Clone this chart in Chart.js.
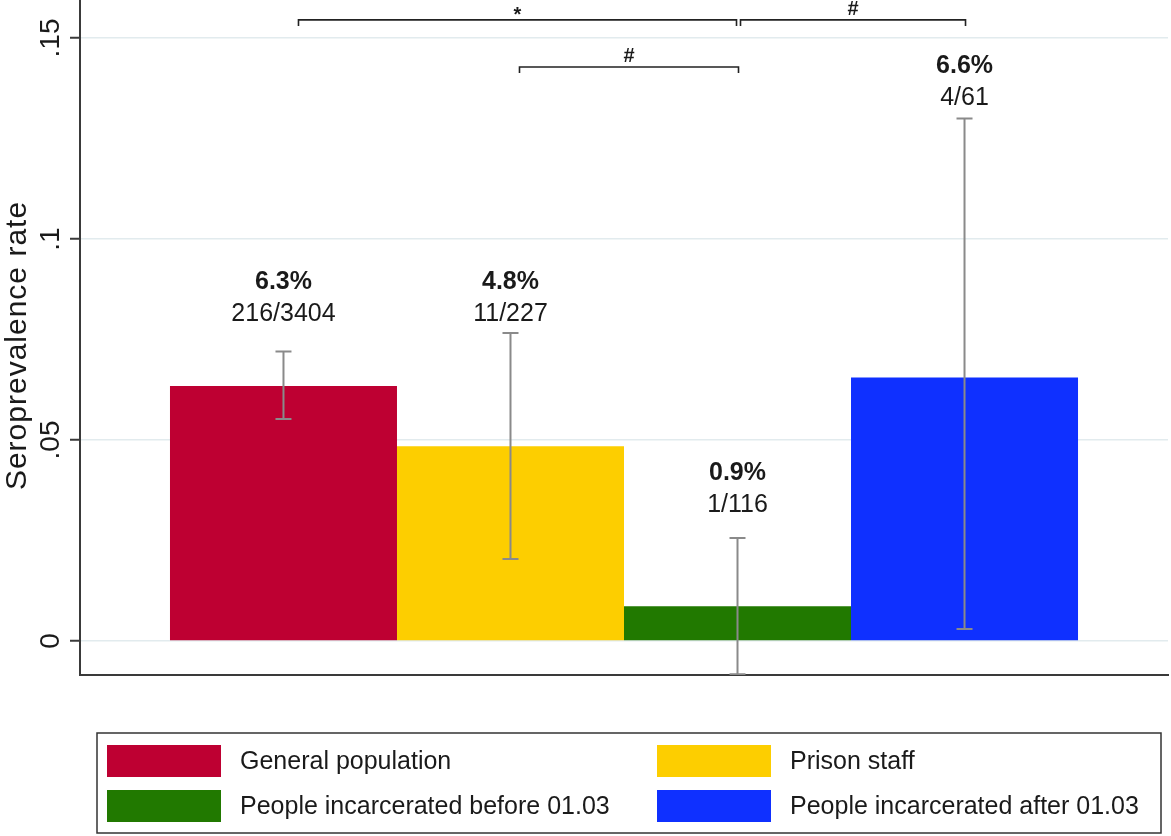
<!DOCTYPE html>
<html>
<head>
<meta charset="utf-8">
<title>Seroprevalence rate by group</title>
<script src="https://cdn.jsdelivr.net/npm/chart.js@4.4.1/dist/chart.umd.min.js"></script>
<style>
  html, body { margin: 0; padding: 0; background: #ffffff; }
  #wrap { width: 1171px; height: 836px; }
</style>
</head>
<body>
<div id="wrap"><canvas id="chart" width="1171" height="836"></canvas></div>
<script>
// Groups, counts and 95% confidence limits
const groups = [
  'General population',
  'Prison staff',
  'People incarcerated before 01.03',
  'People incarcerated after 01.03'
];
const positives = [216, 11, 1, 4];
const tested = [3404, 227, 116, 61];
const ciLower = [0.0552, 0.0204, -0.0083, 0.0030];
const ciUpper = [0.0720, 0.0766, 0.0256, 0.1300];
const rates = positives.map((p, i) => p / tested[i]);

// Y axis ticks
const yTickValues = [0, 0.05, 0.1, 0.15];
const yTickLabels = ['0', '.05', '.1', '.15'];

// Pairwise comparison markers
const comparisons = [
  { from: 0, to: 2, mark: '*' },
  { from: 2, to: 3, mark: '#' },
  { from: 1, to: 2, mark: '#' }
];

// Styling / placement
const colors = ['#be0032', '#fdce00', '#217900', '#0f30ff'];
const FONT = "'Liberation Sans', Arial, Helvetica, sans-serif";
const INK = '#1a1a1a';
const AXIS = '#3a3a3a';
// baseline of the count line above each bar, in axis units
const labelBaseline = [0.0796, 0.0796, 0.0321, 0.1333];
// bracket height (axis units) and end nudges (px) for each comparison
const bracketLayout = [
  { y: 0.1545, dx0: 15, dx1: -1 },
  { y: 0.1545, dx0: 3, dx1: 1 },
  { y: 0.1428, dx0: 9, dx1: 1 }
];

Chart.defaults.font.family = FONT;
Chart.defaults.color = INK;

const overlays = {
  id: 'overlays',
  afterDatasetsDraw(chart) {
    const ctx = chart.ctx;
    const ys = chart.scales.y;
    const area = chart.chartArea;
    const centers = chart.data.datasets.map((d, i) => chart.getDatasetMeta(i).data[0].x);

    // confidence interval whiskers
    ctx.save();
    ctx.beginPath();
    ctx.rect(area.left, area.top, area.right - area.left, area.bottom - area.top);
    ctx.clip();
    ctx.strokeStyle = '#8a8a8a';
    ctx.lineWidth = 2;
    centers.forEach((x, i) => {
      const yLo = ys.getPixelForValue(ciLower[i]);
      const yHi = ys.getPixelForValue(ciUpper[i]);
      ctx.beginPath();
      ctx.moveTo(x, yLo); ctx.lineTo(x, yHi);
      ctx.moveTo(x - 8, yHi); ctx.lineTo(x + 8, yHi);
      ctx.moveTo(x - 8, yLo); ctx.lineTo(x + 8, yLo);
      ctx.stroke();
    });
    ctx.restore();

    // value labels
    ctx.save();
    ctx.fillStyle = INK;
    ctx.textAlign = 'center';
    ctx.textBaseline = 'alphabetic';
    centers.forEach((x, i) => {
      const yb = ys.getPixelForValue(labelBaseline[i]);
      ctx.font = 'bold 25px ' + FONT;
      ctx.fillText((rates[i] * 100).toFixed(1) + '%', x, yb - 32);
      ctx.font = '25px ' + FONT;
      ctx.fillText(positives[i] + '/' + tested[i], x, yb);
    });
    ctx.restore();

    // comparison brackets
    ctx.save();
    ctx.strokeStyle = '#222';
    ctx.lineWidth = 1.6;
    ctx.fillStyle = INK;
    ctx.textAlign = 'center';
    ctx.textBaseline = 'alphabetic';
    comparisons.forEach((c, k) => {
      const L = bracketLayout[k];
      const x0 = centers[c.from] + L.dx0;
      const x1 = centers[c.to] + L.dx1;
      const y = ys.getPixelForValue(L.y);
      ctx.beginPath();
      ctx.moveTo(x0, y + 6); ctx.lineTo(x0, y); ctx.lineTo(x1, y); ctx.lineTo(x1, y + 6);
      ctx.stroke();
      if (c.mark === '*') {
        ctx.font = 'bold 20px ' + FONT;
        ctx.fillText(c.mark, (x0 + x1) / 2, y + 1);
      } else {
        ctx.font = 'bold 20px ' + FONT;
        ctx.fillText(c.mark, (x0 + x1) / 2, y - 5);
      }
    });
    ctx.restore();
  },
  afterDraw(chart) {
    const ctx = chart.ctx;
    const ys = chart.scales.y;
    const area = chart.chartArea;

    // y tick labels, rotated
    ctx.save();
    ctx.fillStyle = INK;
    ctx.font = '28px ' + FONT;
    ctx.textAlign = 'center';
    ctx.textBaseline = 'alphabetic';
    yTickValues.forEach((v, i) => {
      const y = ys.getPixelForValue(v);
      ctx.save();
      ctx.translate(59, y);
      ctx.rotate(-Math.PI / 2);
      ctx.fillText(yTickLabels[i], 0, 0);
      ctx.restore();
    });
    // y axis title
    ctx.save();
    ctx.translate(26, (area.top + area.bottom) / 2 + 8);
    ctx.rotate(-Math.PI / 2);
    ctx.font = '30px ' + FONT;
    ctx.letterSpacing = '1px';
    ctx.fillText('Seroprevalence rate', 0, 0);
    ctx.restore();
    ctx.restore();

    // legend: two columns in a framed box
    const box = { x: 97, y: 733, w: 1064, h: 100 };
    ctx.save();
    ctx.strokeStyle = '#333';
    ctx.lineWidth = 1.5;
    ctx.strokeRect(box.x, box.y, box.w, box.h);
    ctx.font = '25px ' + FONT;
    ctx.textAlign = 'left';
    ctx.textBaseline = 'middle';
    chart.data.datasets.forEach((ds, i) => {
      const col = i % 2, row = Math.floor(i / 2);
      const sx = box.x + 10 + col * 550;
      const sy = box.y + 12 + row * 45;
      ctx.fillStyle = ds.backgroundColor;
      ctx.fillRect(sx, sy, 114, 32);
      ctx.fillStyle = INK;
      ctx.fillText(ds.label, sx + 133, sy + 17);
    });
    ctx.restore();
  }
};

new Chart(document.getElementById('chart'), {
  type: 'bar',
  data: {
    labels: [''],
    datasets: groups.map((g, i) => ({
      label: g,
      data: [rates[i]],
      backgroundColor: colors[i],
      borderWidth: 0,
      barPercentage: 1,
      categoryPercentage: 0.8346
    }))
  },
  options: {
    responsive: false,
    animation: false,
    devicePixelRatio: 1,
    layout: { padding: { left: 0, right: 3, top: 0, bottom: 0 } },
    plugins: { legend: { display: false }, tooltip: { enabled: false } },
    scales: {
      x: {
        type: 'category',
        grid: { display: false, drawTicks: false },
        border: { display: true, color: AXIS, width: 2 },
        ticks: { display: false },
        afterFit(s) { s.height = 161; }
      },
      y: {
        type: 'linear',
        min: -0.00846,
        max: 0.15945,
        afterBuildTicks(s) { s.ticks = yTickValues.map(v => ({ value: v })); },
        grid: { color: '#e2ebee', lineWidth: 1.5, tickColor: AXIS, tickLength: 10, tickWidth: 2 },
        border: { display: true, color: AXIS, width: 2 },
        ticks: { display: false },
        afterFit(s) { s.width = 80; }
      }
    }
  },
  plugins: [overlays]
});
</script>
</body>
</html>
